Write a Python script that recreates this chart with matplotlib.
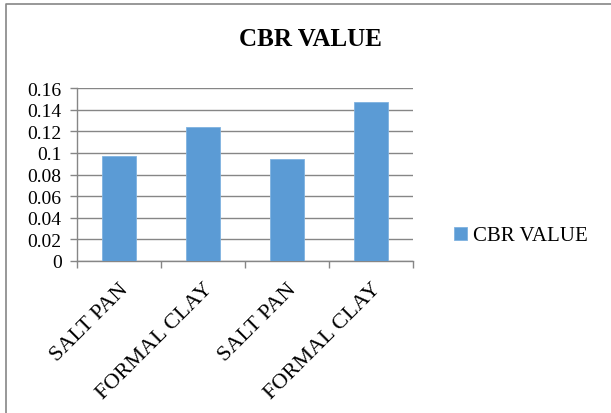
import matplotlib
matplotlib.use("Agg")
import matplotlib.pyplot as plt
import matplotlib.transforms as mtransforms
from matplotlib.lines import Line2D
from matplotlib.ticker import FixedLocator, FuncFormatter
import numpy as np

plt.rcParams["font.family"] = ["Liberation Serif", "DejaVu Serif"]

categories = ["SALT PAN", "FORMAL CLAY", "SALT PAN", "FORMAL CLAY"]
cbr_values = [0.097, 0.124, 0.094, 0.147]
y_ticks = [0, 0.02, 0.04, 0.06, 0.08, 0.1, 0.12, 0.14, 0.16]

W, H = 611, 414
fig = plt.figure(figsize=(W / 100, H / 100), dpi=100)
fig.patch.set_facecolor("white")

grey = "#868686"
bar_blue = "#5B9BD5"

# chart frame: only the left and top edges fall inside the image
fig.lines.append(Line2D([5.5 / W, 5.5 / W, 1.0], [0.0, 1 - 4.5 / H, 1 - 4.5 / H],
                        transform=fig.transFigure, color=grey, lw=1.2))

ax = fig.add_axes([77 / W, 1 - 262 / H, (413 - 77) / W, (262 - 89) / H])
x = np.arange(len(categories))
ax.bar(x, cbr_values, width=0.4, color=bar_blue, edgecolor="#7FB2E0", lw=0.6,
       zorder=3, label="CBR VALUE")

ax.set_xlim(-0.5, len(categories) - 0.5)
ax.set_ylim(0, 0.16)
ax.set_yticks(y_ticks)
ax.yaxis.set_major_formatter(FuncFormatter(lambda v, p: "%g" % round(v, 2)))
ax.yaxis.grid(True, color=grey, lw=1, zorder=0)

for side in ["top", "right"]:
    ax.spines[side].set_visible(False)
for side in ["left", "bottom"]:
    ax.spines[side].set_color(grey)
    ax.spines[side].set_linewidth(1)

ax.tick_params(axis="y", direction="out", length=5, width=1, color=grey,
               labelsize=14, pad=6)

# labels at bar centres, tick marks between categories
ax.set_xticks(x)
ax.set_xticklabels(categories, rotation=45, ha="right", va="center",
                   rotation_mode="anchor", fontsize=16)
ax.tick_params(axis="x", which="major", length=0, pad=18)
shift = mtransforms.ScaledTranslation(7 / 100, 0, fig.dpi_scale_trans)
for lab in ax.get_xticklabels():
    lab.set_transform(lab.get_transform() + shift)
ax.xaxis.set_minor_locator(FixedLocator(np.arange(-0.5, len(categories), 1)))
ax.tick_params(axis="x", which="minor", direction="out", length=5, width=1, color=grey)

fig.text(310 / W, 1 - 40 / H, "CBR VALUE", ha="center", va="center",
         fontsize=18, fontweight="bold")

handles, labels = ax.get_legend_handles_labels()
fig.legend(handles, labels, loc="center left", bbox_to_anchor=(444 / W, 1 - 237 / H),
           frameon=False, fontsize=15, handlelength=0.6, handleheight=0.6,
           handletextpad=0.3, borderpad=0)

fig.savefig("out.png", dpi=100, facecolor="white")
